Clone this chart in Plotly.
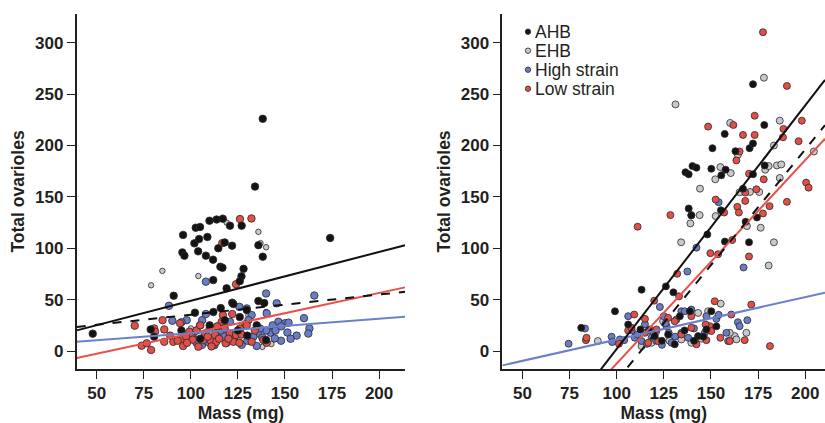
import plotly.graph_objects as go

# ---------------- data: left panel ----------------
L_AHB_x = [47.9,138.2,134.1,174,95.9,102.6,104.9,109.9,113.7,117,120.8,127,101.9,104.4,108.8,118,114.6,121.9,95.5,96.6,103.9,108,111.8,115.7,116.8,128,126.9,126,111.9,119,90.9,135.9,138.2,135.9,139,122,122.6,115.9,102.2,78.7,80.5,129.7,126,112,140,95,110,118,130,105,125,135]
L_AHB_y = [16.9,226,160,110,113,120,120.7,126.8,128,128.8,122,122,104.8,109,111,105.7,100,102.5,96,92.8,97,92.8,88.9,82,81,80,72.7,68,69,61,53.8,103,91.8,48.7,46.7,47,45.7,41.8,37.3,21,14,40,33,38,10.7,20,25,30,15,12,20,25]

L_EHB_x = [78.9,84.9,104,119,135.9,137,140,130.6,140,142.8,113,107,126,138,110,122,100]
L_EHB_y = [64,78,73,125,116,105,101,34.7,38,6.8,5,15,9,4,7,13,22]

L_HIGH_x = [108,88.4,90.2,97.8,125.8,129.7,145.6,140,165.6,160.1,163,162.4,156.2,151.3,147.9,146.5,150,151.9,143.5,142.4,144.6,140,135.9,135,133.2,132.3,130.6,136.8,140.3,126,120.8,117,112,101,103,106,109,104.9,106,110,114,117,123,127,130,138,145,148,153,129,119,116,108,95,99,103]
L_HIGH_y = [67.5,44,29.5,30,43,41.5,46.4,56,54,32,22,17,15,18,10,28.5,27,27.6,25,17.8,12.3,20,17,4.9,14,35,30,22,36.6,18.8,28.5,15,5.8,14,8,6,9,25,30,22,18,27,12,6,10,13,20,24,12,26,8,20,36,28,12,20]

L_LOW_x = [70.2,73.9,78.9,76.6,80.5,81,85,85.9,85.9,90.7,94.3,95.9,95.5,99.2,100.5,104,103,106.7,107.5,110.6,112.9,116.4,117,118,120.7,118.5,122,122.6,124,125.8,126.1,129.7,132.3,138.5,140.3,124,116.7,126.1,132.2,97.5,101,109,113.5,111,93,98,114,120,127,134,115,105,89]
L_LOW_y = [24.7,5.2,1,7.5,22,18.8,30,21,9,9,27,4.9,12.3,18.8,13.3,4.2,20,10.7,17,10,15.6,28.5,35,22,17,7.5,36,9,15.6,8,22,25,9,10.7,8,65,105,128.4,129,14,11,14,9,4.5,10,8,24,12,16,20,12,25,15]

# ---------------- data: right panel ----------------
R_AHB_x = [81.2,99.1,113.2,126.1,130.1,106.1,112.6,138.2,139.6,136.5,138.2,140.2,142.3,148.1,150.8,150.2,155.5,157.3,157.8,155.3,157.4,163,167,168.4,170.5,172.3,170.2,172.3,174.4,178.3,178.5,172.3,150.2,133.5,138.8,143.2,127.3,130.8,120.2,147.6,152.9,136,141,124,117,146]
R_AHB_y = [22.6,38.7,59.7,62.9,57.1,25.8,21,138.7,132,174,172,180,178.4,113.5,197.4,177.4,171,211.3,176.5,137,106.5,194.5,158,125.8,197.4,202,105.8,259.7,130,220,180.6,172,38.7,33.9,38.7,14.5,16,6.5,14.5,21,24,20,10,10,20,14]

R_EHB_x = [90,131.2,134.2,139.1,144.2,144,152.3,155,160.5,160.2,164.3,152.5,165.2,170.7,169.1,175.6,176.4,178.1,178.8,180.6,183.4,180.6,183.4,185,187.3,186.5,186.5,204.6,155.2,148.5,143.2,168.8,162.6,163.5,160,113.2,124.6,139.6,134.3,118.5,128,145,110,121]
R_EHB_y = [9.7,240,105.8,124.2,158,132.3,167.1,179,173.2,222,191,131.3,154.5,154.8,121.6,154.8,120,266,176.5,180,200,83.2,105.8,180.6,181.6,224.2,168.4,194.2,46.1,38.7,37.1,17.7,14.5,11.3,17.7,4.8,29,8,11.3,8,10,12,14,19]

R_HIGH_x = [74.5,83.2,97.3,97.6,101.7,104,106.1,109.6,113.2,117.6,118.5,122.9,125,126.4,127.6,129.1,131.7,134.3,136.1,139.6,137.5,142.3,154.1,147.6,152.9,154.1,158.2,159.1,164.3,165.2,169.3,167.3,146.7,134.3,137.9,124,121,116,111,131,141,126,108,115]
R_HIGH_y = [7.1,21.9,13.9,8.7,11.3,10.6,33.9,12.9,9.7,21,12.9,42.9,33.9,24.2,17.7,8,30.6,38.7,38.7,40.3,77.4,100.6,144.8,33.9,31.3,35.2,17.7,9.7,28,24.2,30,81.3,17.7,17.7,12.9,6,10,7,16,14,22,27,20,26]

R_LOW_x = [83.7,84,101.2,106.1,109.3,111.1,115,119.9,128.5,132.1,133.1,139.6,148.5,149.7,152.5,153.8,157,161.3,161.9,163.5,165.2,164,164.8,167,168.2,168.2,170.2,170.2,173.2,173.2,174.1,177.6,178,177.6,181.1,188.5,188.2,190.3,190.3,196.5,198.2,200.5,201.8,152,160.8,171.4,181.3,167.9,160,155,147.6,149.4,150.2,147.2,139.6,139.6,134.3,142.3,130.8,127.3,115,116.7,121.1,107.9,122]
R_LOW_y = [10.6,12.9,7.1,20,35.5,121,31.3,49,132.3,75.2,53.2,132.3,218.4,95.2,147.4,94.2,134.8,108,220,185.5,194.2,140.3,134.8,210.3,154.2,146.1,172.6,92,229,210.3,157.4,310.3,167.1,133.9,141,216.1,208,258,145.2,204.2,224.2,163.9,159,48.4,35.5,45.2,4.8,10.6,9.7,12.9,10.6,24.2,19.4,25.8,22.6,33.9,16.1,6.5,29,32.3,17.7,8,21,22.6,9.7]

# fitted lines: intercept, slope
L_FIT = {"AHB": (1.4, 0.475), "EHB": (15.75, 0.196), "High strain": (3.4, 0.140), "Low strain": (-22.3, 0.394)}
R_FIT = {"AHB": (-235.0, 2.37), "EHB": (-253.9, 2.25), "High strain": (-30.3, 0.414), "Low strain": (-210.2, 1.98)}

GROUPS = ["AHB", "EHB", "High strain", "Low strain"]
X_TICKS = [50, 75, 100, 125, 150, 175, 200]
Y_TICKS = [0, 50, 100, 150, 200, 250, 300]

# ---------------- styles ----------------
W, H = 825, 423
MT, MB = 14, 54
COL = {"AHB": "#141414", "EHB": "#c8c9cd", "High strain": "#6a7cc6", "Low strain": "#e24e48"}
LINECOL = {"AHB": "#111111", "EHB": "#111111", "High strain": "#6b80c9", "Low strain": "#e8514b"}
DASH = {"AHB": "solid", "EHB": "dash", "High strain": "solid", "Low strain": "solid"}
INK = "#231f20"
FAM = "Liberation Sans, Arial, sans-serif"

fig = go.Figure()

left = {"AHB": (L_AHB_x, L_AHB_y), "EHB": (L_EHB_x, L_EHB_y),
        "High strain": (L_HIGH_x, L_HIGH_y), "Low strain": (L_LOW_x, L_LOW_y)}
right = {"AHB": (R_AHB_x, R_AHB_y), "EHB": (R_EHB_x, R_EHB_y),
         "High strain": (R_HIGH_x, R_HIGH_y), "Low strain": (R_LOW_x, R_LOW_y)}

order = ["EHB", "High strain", "Low strain", "AHB"]
for panel, data, xa, ya, xr in [(0, left, "x", "y", (39.4, 213.8)), (1, right, "x2", "y2", (39.4, 210.5))]:
    for g in order:
        xs, ys = data[g]
        size = 7.5 if panel == 0 else 7
        if panel == 0 and g == "EHB":
            size = 5.5
        fig.add_trace(go.Scatter(
            x=xs, y=ys, mode="markers", xaxis=xa, yaxis=ya, showlegend=False, name=g,
            marker=dict(size=size, color=COL[g], line=dict(color="#2a2a2a", width=0.8)),
            hoverinfo="skip"))
    fits = L_FIT if panel == 0 else R_FIT
    for g in ["Low strain", "High strain", "EHB", "AHB"]:
        b0, b1 = fits[g]
        lx = [xr[0], xr[1]]
        ly = [b0 + b1 * v for v in lx]
        fig.add_trace(go.Scatter(
            x=lx, y=ly, mode="lines", xaxis=xa, yaxis=ya, showlegend=False,
            line=dict(color=LINECOL[g], width=2, dash=DASH[g]), hoverinfo="skip"))

# legend (compact, drawn as symbols + labels in the top-left of the right panel)
LEG_X, LEG_Y0, LEG_DY = 528, 31.7, 19
shapes, annots = [], []
for i, g in enumerate(GROUPS):
    cy = LEG_Y0 + i * LEG_DY
    py = (H - MB - cy) / (H - MT - MB)
    r = 2.7
    shapes.append(dict(type="circle", xref="paper", yref="paper",
                       x0=(LEG_X - r) / W, x1=(LEG_X + r) / W,
                       y0=py - r / (H - MT - MB), y1=py + r / (H - MT - MB),
                       fillcolor=COL[g], line=dict(color="#2a2a2a", width=0.8)))
    annots.append(dict(text=g, xref="paper", yref="paper", x=(LEG_X + 5) / W, y=py,
                       xanchor="left", yanchor="middle", showarrow=False,
                       font=dict(family=FAM, size=17.5, color=INK)))

tickfont = dict(family=FAM, size=17, color=INK, weight="bold")
titlefont = dict(family=FAM, size=17.5, color=INK, weight="bold")

def xaxis(domain, rng, anchor):
    return dict(domain=domain, range=list(rng), anchor=anchor, tickvals=X_TICKS,
                showline=True, linecolor=INK, linewidth=1.8, ticks="outside",
                ticklen=8, tickwidth=1.4, tickcolor=INK, showgrid=False, zeroline=False,
                tickfont=tickfont, automargin=False,
                title=dict(text="Mass (mg)", font=titlefont, standoff=2))

def yaxis(domain, anchor):
    return dict(domain=domain, range=[-17.5, 328], anchor=anchor, tickvals=Y_TICKS,
                showline=True, linecolor=INK, linewidth=1.8, ticks="outside",
                ticklen=8, tickwidth=1.4, tickcolor=INK, showgrid=False, zeroline=False,
                tickfont=tickfont, automargin=False,
                title=dict(text="Total ovarioles", font=titlefont, standoff=6))

fig.update_layout(
    width=W, height=H,
    margin=dict(l=0, r=0, t=MT, b=MB, pad=0),
    paper_bgcolor="white", plot_bgcolor="white",
    font=dict(family=FAM, size=17, color=INK),
    xaxis=xaxis([0.093, 0.491], (39.4, 213.8), "y"),
    yaxis=yaxis([0, 1], "x"),
    xaxis2=xaxis([0.609, 1.0], (39.4, 210.5), "y2"),
    yaxis2=yaxis([0, 1], "x2"),
    shapes=shapes, annotations=annots,
    showlegend=False,
)

fig.write_html("out.html", config={"displayModeBar": False},
               post_script="document.body.style.margin='0';document.body.style.padding='0';")
